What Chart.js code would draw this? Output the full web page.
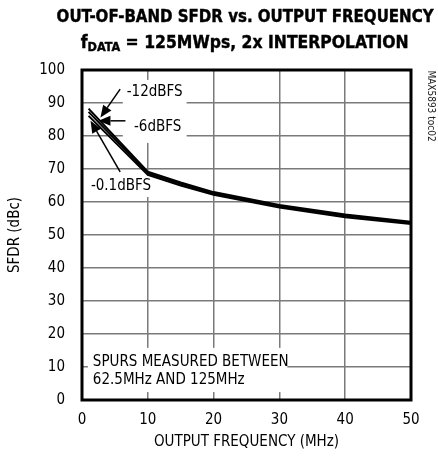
<!DOCTYPE html>
<html>
<head>
<meta charset="utf-8">
<script src="https://cdn.jsdelivr.net/npm/chart.js@4"></script>
<style>
  html, body { margin: 0; padding: 0; background: #fff; }
  #wrap { position: relative; width: 438px; height: 459px; }
  .t { position: absolute; left: 26px; width: 438px; text-align: center; z-index: 2; }
  .t span { display: inline-block; transform-origin: 50% 50%;
       font-family: 'DejaVu Sans Condensed', 'Liberation Sans', sans-serif;
       font-weight: bold; font-size: 18px; color: #000; white-space: nowrap;
       -webkit-text-stroke: 0.4px #000; line-height: 20px; }
  .t sub { font-size: 13px; vertical-align: -3px; line-height: 0; }
  canvas { position: absolute; left: 0; top: 0; }
</style>
</head>
<body>
<div id="wrap">
  <div class="t" style="top:6px"><span id="t1" data-w="377">OUT-OF-BAND SFDR vs. OUTPUT FREQUENCY</span></div>
  <div class="t" style="top:32px"><span id="t2" data-w="328">f<sub>DATA</sub> = 125MWps, 2x INTERPOLATION</span></div>
  <canvas id="c" width="438" height="459"></canvas>
</div>
<script>
// ---- data ----
const freqMHz   = [1, 10, 15, 20, 30, 40, 50];
const sfdr12dB  = [88.3, 69.2, 65.9, 63.0, 59.1, 56.2, 54.0];
const sfdr6dB   = [87.3, 68.7, 65.5, 62.6, 58.7, 55.8, 53.7];
const sfdr01dB  = [86.1, 68.2, 65.0, 62.2, 58.3, 55.4, 53.3];
const seriesNames = ['-12dBFS', '-6dBFS', '-0.1dBFS'];
const xTicks = [0, 10, 20, 30, 40, 50];
const yTicks = [0, 10, 20, 30, 40, 50, 60, 70, 80, 90, 100];

const FONT = "'Liberation Sans Narrow', 'DejaVu Sans Condensed', sans-serif";

// fit title lines to the reference widths
document.querySelectorAll('.t span').forEach(el => {
  const w = el.getBoundingClientRect().width;
  const target = +el.dataset.w;
  if (w > 0) el.style.transform = 'scaleX(' + (target / w) + ')';
});

// annotation positions in data units
const noteLabels = [
  { text: '-12dBFS', x: 6.8, y: 93.3 },
  { text: '-6dBFS', x: 7.9, y: 82.7 },
  { text: '-0.1dBFS', x: 1.35, y: 64.8 },
  { text: 'SPURS MEASURED BETWEEN', x: 1.65, y: 11.6 },
  { text: '62.5MHz AND 125MHz', x: 1.65, y: 6.0 }
];
const maskBoxes = [
  { x0: 6.2, x1: 15.9, y0: 77.9, y1: 97.0 },
  { x0: 0.9, x1: 10.9, y0: 61.5, y1: 68.0 },
  { x0: 0.9, x1: 31.2, y0: 2.4, y1: 15.8 }
];
const arrows = [
  { x0: 5.8, y0: 94.2, x1: 2.8, y1: 85.6 },
  { x0: 6.6, y0: 84.6, x1: 2.5, y1: 84.6 },
  { x0: 5.8, y0: 69.1, x1: 1.3, y1: 84.6 }
];

const mkData = vals => freqMHz.map((f, i) => ({ x: f, y: vals[i] }));

const notesPlugin = {
  id: 'notes',
  beforeDatasetsDraw(chart) {
    const { ctx, scales: { x, y } } = chart;
    ctx.save();
    ctx.fillStyle = '#fff';
    maskBoxes.forEach(b => {
      const px0 = x.getPixelForValue(b.x0), px1 = x.getPixelForValue(b.x1);
      const py0 = y.getPixelForValue(b.y1), py1 = y.getPixelForValue(b.y0);
      ctx.fillRect(px0, py0, px1 - px0, py1 - py0);
    });
    ctx.fillStyle = '#000';
    ctx.font = '15px ' + FONT;
    ctx.textBaseline = 'middle';
    ctx.textAlign = 'left';
    noteLabels.forEach(l => {
      ctx.fillText(l.text, x.getPixelForValue(l.x), y.getPixelForValue(l.y));
    });
    ctx.restore();
  },
  afterDatasetsDraw(chart) {
    const { ctx, chartArea: a, scales: { x, y } } = chart;
    ctx.save();
    ctx.strokeStyle = '#000';
    ctx.fillStyle = '#000';
    arrows.forEach(ar => {
      const x0 = x.getPixelForValue(ar.x0), y0 = y.getPixelForValue(ar.y0);
      const x1 = x.getPixelForValue(ar.x1), y1 = y.getPixelForValue(ar.y1);
      const ang = Math.atan2(y1 - y0, x1 - x0);
      const L = 12, W = 5;
      const bx = x1 - L * Math.cos(ang), by = y1 - L * Math.sin(ang);
      ctx.lineWidth = 1.5;
      ctx.beginPath(); ctx.moveTo(x0, y0); ctx.lineTo(bx, by); ctx.stroke();
      ctx.beginPath();
      ctx.moveTo(x1, y1);
      ctx.lineTo(bx + W * Math.sin(ang), by - W * Math.cos(ang));
      ctx.lineTo(bx - W * Math.sin(ang), by + W * Math.cos(ang));
      ctx.closePath(); ctx.fill();
    });
    // frame
    ctx.lineWidth = 3;
    ctx.strokeRect(a.left, a.top, a.right - a.left, a.bottom - a.top);
    // side id text
    ctx.font = '10px ' + FONT;
    ctx.translate(a.right + 20, 106);
    ctx.rotate(Math.PI / 2);
    ctx.textAlign = 'center';
    ctx.textBaseline = 'middle';
    ctx.fillStyle = '#222';
    ctx.fillText('MAX5893 toc02', 0, 0);
    ctx.restore();
  }
};

const lineStyle = { borderColor: '#000', borderWidth: 2, pointRadius: 0, tension: 0, fill: false };

new Chart(document.getElementById('c'), {
  type: 'line',
  data: {
    datasets: [
      { label: seriesNames[0], data: mkData(sfdr12dB), ...lineStyle },
      { label: seriesNames[1], data: mkData(sfdr6dB), ...lineStyle },
      { label: seriesNames[2], data: mkData(sfdr01dB), ...lineStyle }
    ]
  },
  options: {
    responsive: false,
    animation: false,
    devicePixelRatio: 1,
    layout: { padding: { top: 70, right: 27, left: 0, bottom: 0 } },
    plugins: { legend: { display: false }, tooltip: { enabled: false }, title: { display: false } },
    scales: {
      x: {
        type: 'linear', min: 0, max: 50,
        afterBuildTicks: s => { s.ticks = xTicks.map(v => ({ value: v })); },
        afterFit: s => { s.height = 59; },
        grid: { color: '#7a7a7a', lineWidth: 1.5, drawTicks: false },
        border: { display: false },
        ticks: { color: '#000', padding: 11, font: { family: FONT, size: 15 }, maxRotation: 0 },
        title: { display: true, text: 'OUTPUT FREQUENCY (MHz)', color: '#000',
                 font: { family: FONT, size: 15 }, padding: { top: 0, bottom: 8 } }
      },
      y: {
        type: 'linear', min: 0, max: 100,
        afterBuildTicks: s => { s.ticks = yTicks.map(v => ({ value: v })); },
        afterFit: s => { s.width = 82; },
        grid: { color: '#7a7a7a', lineWidth: 1.5, drawTicks: false },
        border: { display: false },
        ticks: { color: '#000', padding: 17, font: { family: FONT, size: 15 } },
        title: { display: true, text: 'SFDR (dBc)', color: '#000',
                 font: { family: FONT, size: 15 }, padding: { top: 6, bottom: 0 } }
      }
    }
  },
  plugins: [notesPlugin]
});
</script>
</body>
</html>
